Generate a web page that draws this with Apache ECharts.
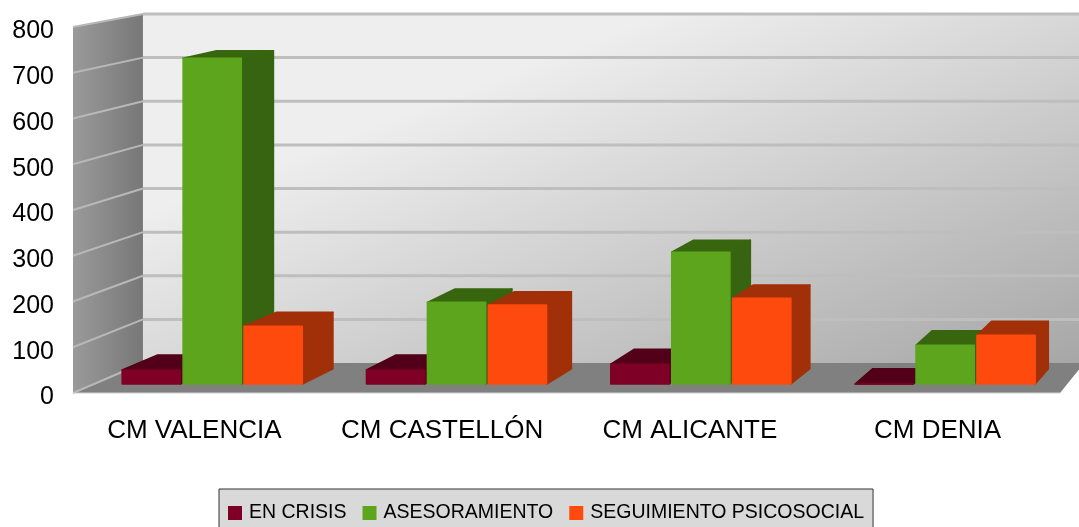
<!DOCTYPE html>
<html>
<head>
<meta charset="utf-8">
<style>html,body{margin:0;padding:0;background:#fff;overflow:hidden}#c{width:1079px;height:527px;filter:blur(0.7px)}</style>
<script src="https://cdn.jsdelivr.net/npm/echarts@6/dist/echarts.min.js"></script>
</head>
<body>
<div id="c"></div>
<script>
var categories = ['CM VALENCIA', 'CM CASTELLÓN', 'CM ALICANTE', 'CM DENIA'];
var seriesNames = ['EN CRISIS', 'ASESORAMIENTO', 'SEGUIMIENTO PSICOSOCIAL'];
var enCrisis = [31, 31, 44, 0];
var asesoramiento = [722, 181, 292, 86];
var seguimiento = [128, 175, 190, 108];
var valueTicks = [0, 100, 200, 300, 400, 500, 600, 700, 800];
var values = [enCrisis, asesoramiento, seguimiento];

var frontColors = ['#7f0026', '#5ca51c', '#ff4a0d'];
var topColors = ['#52001a', '#38660f', '#a12f08'];
var sideColors = ['#52001a', '#366410', '#a13008'];

// one-point perspective used by the pseudo-3D chart
var VP = [1584, -254];
var BAR_NEAR = 0.0139, BAR_FAR = 0.0375, WALL_FAR = 0.0463, WALL_INSET = 4;
function proj(p, k) { return [VP[0] + (p[0] - VP[0]) * (1 - k), VP[1] + (p[1] - VP[1]) * (1 - k)]; }
function poly(points, fill, z) {
  return { type: 'polygon', z2: z || 0, shape: { points: points }, style: { fill: fill } };
}
function solid(points, fill) {
  return { type: 'polygon', shape: { points: points }, style: { fill: fill, stroke: fill, lineWidth: 1.5, lineJoin: 'round' } };
}
function line(a, b, color, w) {
  return { type: 'line', z2: 2, shape: { x1: a[0], y1: a[1], x2: b[0], y2: b[1] }, style: { stroke: color, lineWidth: w } };
}

function renderWalls(params, api) {
  var cs = params.coordSys;
  var L = cs.x + WALL_INSET, R = cs.x + cs.width;
  var y0 = api.coord([0, 0])[1], yT = api.coord([0, 800])[1];
  var fl = [L, y0], fr = [R, y0], tl = [L, yT];
  var bl = proj(fl, WALL_FAR), br = proj(fr, WALL_FAR), tb = proj(tl, WALL_FAR);
  var trb = [br[0], tb[1]];
  var kids = [];
  kids.push({ type: 'polygon', shape: { points: [tb, trb, br, bl] }, style: { fill: {
    type: 'linear', global: true, x: 670, y: 10, x2: 844, y2: 460,
    colorStops: [{ offset: 0, color: '#eeeeee' }, { offset: 1, color: '#a6a6a6' }]
  } } });
  kids.push({ type: 'polygon', shape: { points: [tl, tb, bl, fl] }, style: { fill: {
    type: 'linear', x: 0, y: 0, x2: 1, y2: 0,
    colorStops: [{ offset: 0, color: '#9a9a9a' }, { offset: 1, color: '#777777' }]
  } } });
  kids.push(poly([fl, bl, br, fr], '#808080', 1));
  valueTicks.forEach(function (t) {
    var f = [L, api.coord([0, t])[1]];
    var b = proj(f, WALL_FAR);
    if (t > 0) kids.push(line([b[0], b[1]], [br[0], b[1]], '#bebebe', 3));
    kids.push(line(f, b, '#b8b8b8', 2));
  });
  kids.push(line(fl, fr, '#d0d0d0', 1));
  return { type: 'group', children: kids };
}

function makeBarRenderer(si) {
  return function (params, api) {
    var c = api.coord([api.value(0), api.value(1)]);
    var base = api.coord([api.value(0), 0])[1];
    var band = api.size([1, 0])[0];
    var step = band * 0.2495, w = step * 0.955;
    var x0 = c[0] + (si - 1) * step - w / 2, x1 = x0 + w;
    var a = proj([x0, c[1]], BAR_NEAR), b = proj([x1, c[1]], BAR_NEAR);
    var d = proj([x1, base], BAR_NEAR), e = proj([x0, base], BAR_NEAR);
    var a2 = proj([x0, c[1]], BAR_FAR), b2 = proj([x1, c[1]], BAR_FAR), d2 = proj([x1, base], BAR_FAR);
    return { type: 'group', children: [
      solid([b, b2, d2, d], sideColors[si]),
      solid([a, a2, b2, b], topColors[si]),
      solid([a, b, d, e], frontColors[si])
    ] };
  };
}

var series = [{
  type: 'custom', name: 'walls', silent: true, clip: false, z: 1,
  renderItem: renderWalls, data: [[0, 0]], encode: { x: 0, y: 1 }
}];
seriesNames.forEach(function (n, si) {
  series.push({
    type: 'custom', name: n, silent: true, clip: false, z: 2 + si,
    itemStyle: { color: frontColors[si] },
    renderItem: makeBarRenderer(si),
    encode: { x: 0, y: 1 },
    data: values[si].map(function (v, i) { return [i, v]; })
  });
});

var chart = echarts.init(document.getElementById('c'), null, { renderer: 'canvas' });
chart.setOption({
  animation: false,
  backgroundColor: '#ffffff',
  textStyle: { fontFamily: 'Liberation Sans' },
  grid: { left: 69, width: 991, top: 27, height: 366 },
  xAxis: {
    type: 'category', data: categories,
    axisLine: { show: false }, axisTick: { show: false }, splitLine: { show: false },
    axisLabel: { color: '#000', fontSize: 26, fontFamily: 'Liberation Sans', margin: 25, interval: 0, hideOverlap: false, padding: [0, 0, 0, 3] }
  },
  yAxis: {
    type: 'value', min: 0, max: 800, interval: 100,
    axisLine: { show: false }, axisTick: { show: false }, splitLine: { show: false },
    axisLabel: { color: '#000', fontSize: 25, fontFamily: 'Liberation Sans', margin: 15, verticalAlign: 'top', lineHeight: 9, hideOverlap: false }
  },
  legend: {
    left: 219, top: 489, data: seriesNames, orient: 'horizontal', icon: 'rect',
    itemWidth: 14, itemHeight: 14, itemGap: 16,
    padding: [14, 9, 13, 9],
    backgroundColor: '#d9d9d9', borderColor: '#333333', borderWidth: 1,
    selectedMode: false,
    textStyle: { color: '#000', fontSize: 19.5, fontFamily: 'Liberation Sans', padding: [0, 0, 0, 2] }
  },
  series: series
});
</script>
</body>
</html>
